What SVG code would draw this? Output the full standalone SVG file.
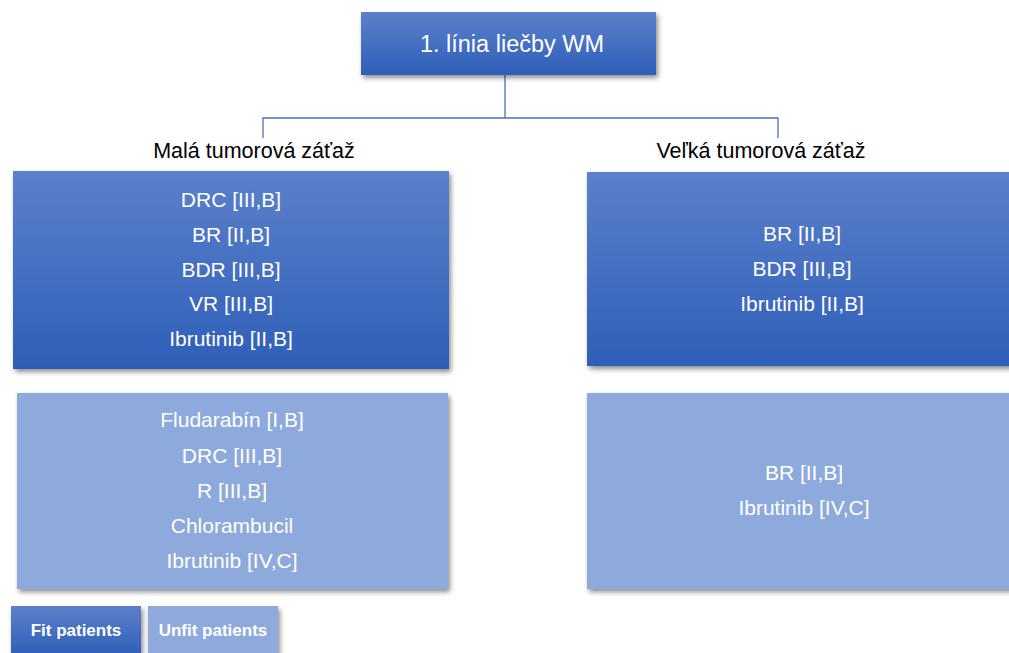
<svg xmlns="http://www.w3.org/2000/svg" width="1009" height="653" viewBox="0 0 1009 653">
<style>
.t{font-family:"Liberation Sans",Arial,sans-serif;font-size:21px;fill:#ffffff;text-anchor:middle}
.h{font-family:"Liberation Sans",Arial,sans-serif;font-size:21.5px;fill:#000000;text-anchor:middle}
.lg{font-family:"Liberation Sans",Arial,sans-serif;font-size:17px;font-weight:bold;fill:#ffffff;text-anchor:middle}
.fit{fill:url(#gfit)}
.unfit{fill:#8eaadc}
.conn{stroke:#4472c4;stroke-width:1.3;fill:none}
</style>
<defs>
<linearGradient id="gfit" x1="0" y1="0" x2="0" y2="1">
<stop offset="0" stop-color="#5c80cb"/>
<stop offset="1" stop-color="#2e5fb8"/>
</linearGradient>
<filter id="sh" x="-5%" y="-5%" width="115%" height="120%">
<feGaussianBlur in="SourceAlpha" stdDeviation="2.5"/>
<feOffset dx="2" dy="3" result="b"/>
<feComponentTransfer><feFuncA type="linear" slope="0.45"/></feComponentTransfer>
<feMerge><feMergeNode/><feMergeNode in="SourceGraphic"/></feMerge>
</filter>
</defs>
<rect width="1009" height="653" fill="#ffffff"/>
<g id="connectors">
<path class="conn" d="M505,75 V118 M263,138 V118 H778 V138"/>
</g>
<g id="root">
<rect class="fit" x="361" y="12" width="295" height="63" filter="url(#sh)"/>
<text class="t" x="512" y="52" style="font-size:23.5px">1. línia liečby WM</text>
</g>
<g id="label-small">
<text class="h" x="254" y="158">Malá tumorová záťaž</text>
</g>
<g id="label-large">
<text class="h" x="761" y="158">Veľká tumorová záťaž</text>
</g>
<g id="small-fit">
<rect class="fit" x="13" y="171" width="436" height="198" filter="url(#sh)"/>
<text class="t" x="231" y="207">DRC [III,B]</text>
<text class="t" x="231" y="242">BR [II,B]</text>
<text class="t" x="231" y="277">BDR [III,B]</text>
<text class="t" x="231" y="311">VR [III,B]</text>
<text class="t" x="231" y="346">Ibrutinib [II,B]</text>
</g>
<g id="large-fit">
<rect class="fit" x="587" y="172" width="426" height="194" filter="url(#sh)"/>
<text class="t" x="802" y="241">BR [II,B]</text>
<text class="t" x="802" y="276">BDR [III,B]</text>
<text class="t" x="802" y="311">Ibrutinib [II,B]</text>
</g>
<g id="small-unfit">
<rect class="unfit" x="17" y="393" width="431" height="196" filter="url(#sh)"/>
<text class="t" x="232" y="427">Fludarabín [I,B]</text>
<text class="t" x="232" y="463">DRC [III,B]</text>
<text class="t" x="232" y="498">R [III,B]</text>
<text class="t" x="232" y="533">Chlorambucil</text>
<text class="t" x="232" y="568">Ibrutinib [IV,C]</text>
</g>
<g id="large-unfit">
<rect class="unfit" x="587" y="393" width="426" height="196" filter="url(#sh)"/>
<text class="t" x="804" y="480">BR [II,B]</text>
<text class="t" x="804" y="515">Ibrutinib [IV,C]</text>
</g>
<g id="legend-fit">
<rect class="fit" x="11" y="606" width="130" height="50" filter="url(#sh)"/>
<text class="lg" x="76" y="636">Fit patients</text>
</g>
<g id="legend-unfit">
<rect class="unfit" x="148" y="606" width="130" height="50" filter="url(#sh)"/>
<text class="lg" x="213" y="636">Unfit patients</text>
</g>
</svg>
